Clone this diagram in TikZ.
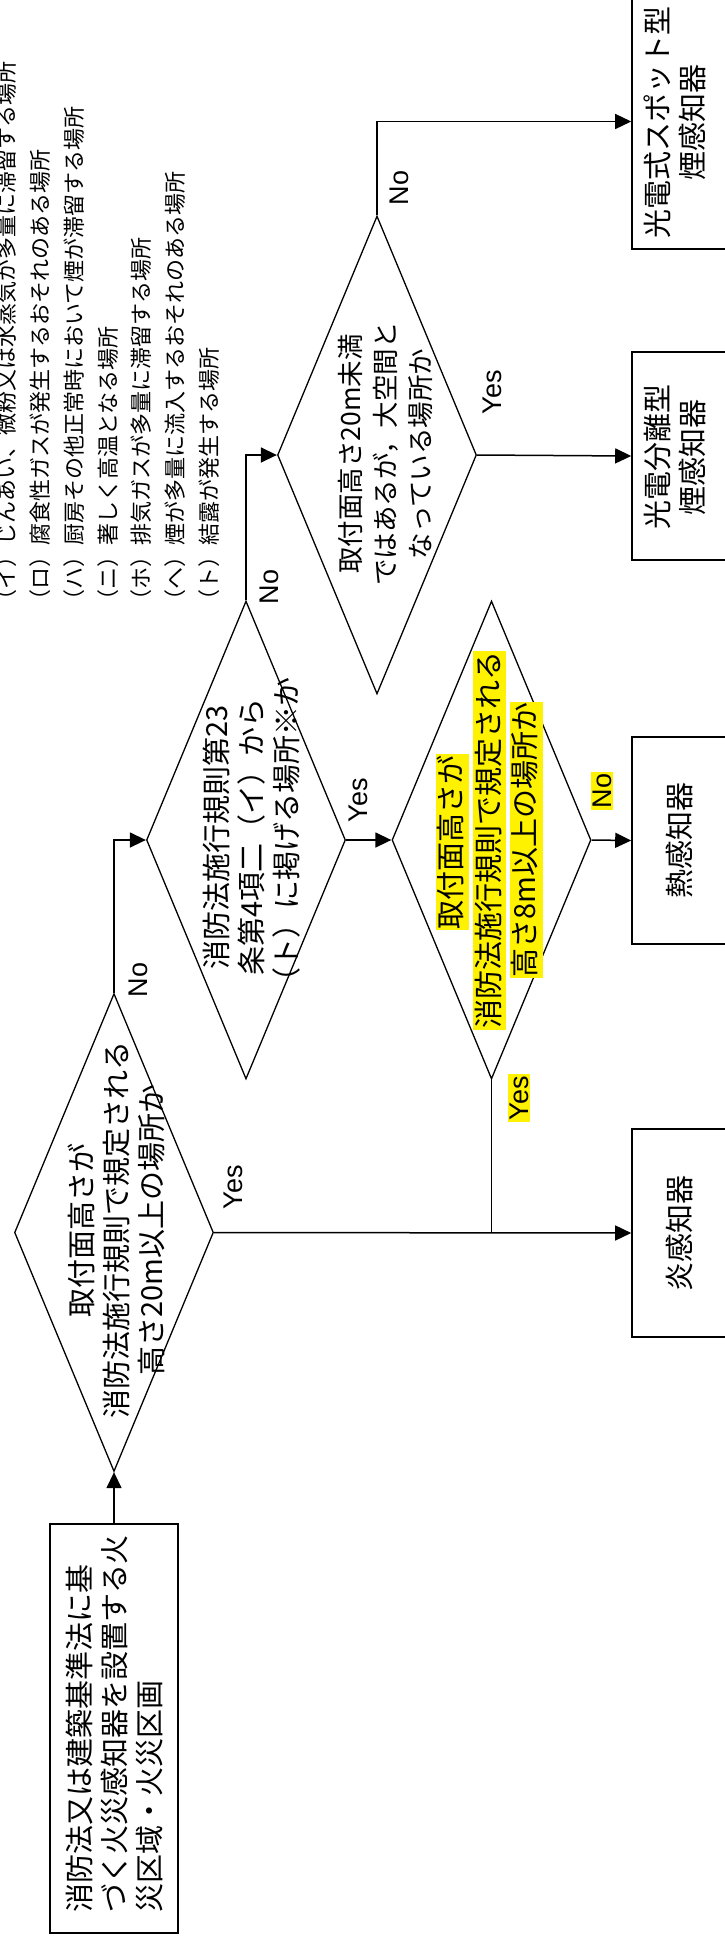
\documentclass[tikz,border=0pt]{standalone}
\usepackage{fontspec}
\setmainfont{Noto Sans CJK JP}
\newfontfamily\lat{Liberation Sans}
\usetikzlibrary{arrows.meta,shapes.geometric}
\tikzset{
  boxs/.style={draw, rectangle, line width=1.6pt, inner sep=0pt},
  dia/.style={draw, diamond, line width=1.3pt, inner sep=0pt, minimum width=199pt, minimum height=478pt},
  txt/.style={rotate=90, align=center, inner sep=0pt, font=\fontsize{29pt}{35pt}\selectfont},
  lbl/.style={rotate=90, inner sep=0pt, font=\lat\fontsize{27pt}{30pt}\selectfont},
  hl/.style={fill=yellow, inner xsep=1pt, inner ysep=2pt, text height=24pt, text depth=5pt},
  note/.style={rotate=90, anchor=west, inner sep=0pt, font=\fontsize{22pt}{26pt}\selectfont},
  conn/.style={line width=1.5pt},
  arr/.style={line width=1.5pt, -{Triangle[length=16pt,width=15pt]}},
}
\begin{document}
\begin{tikzpicture}[x=1pt,y=-1pt]
\useasboundingbox (0,0) rectangle (724,1943);

% notes
\node[note] (n1) at (6.5,612) {（イ）じんあい、微粉又は水蒸気が多量に滞留する場所};
\node[note] (n2) at (40.25,612) {（ロ）腐食性ガスが発生するおそれのある場所};
\node[note] (n3) at (74,612) {（ハ）厨房その他正常時において煙が滞留する場所};
\node[note] (n4) at (107.75,612) {（ニ）著しく高温となる場所};
\node[note] (n5) at (141.5,612) {（ホ）排気ガスが多量に滞留する場所};
\node[note] (n6) at (175.25,612) {（ヘ）煙が多量に流入するおそれのある場所};
\node[note] (n7) at (209,612) {（ト）結露が発生する場所};

% start box
\node[boxs, minimum width=128pt, minimum height=409pt] (start) at (114,1728.5) {};
\node[txt, align=left, anchor=west] (startt) at (114.5,1913)
  {消防法又は建築基準法に基\\づく火災感知器を設置する火\\災区域・火災区画};

% diamonds
\node[dia] (d1) at (114,1232.5) {};
\node[txt] (d1t) at (116,1230) {取付面高さが\\消防法施行規則で規定される\\高さ20m以上の場所か};

\node[dia] (d2) at (246,840) {};
\node[txt] (d2t) at (252,837) {消防法施行規則第23\\条第4項二（イ）から\\（ト）に掲げる場所※か};

\node[dia] (d4) at (491.5,840) {};
\node[txt, hl] (d4a) at (452,842) {取付面高さが};
\node[txt, hl] (d4b) at (489.5,840) {消防法施行規則で規定される};
\node[txt, hl] (d4c) at (526,840) {高さ8m以上の場所か};

\node[dia] (d3) at (377,455) {};
\node[txt, font=\fontsize{26.5pt}{35pt}\selectfont] (d3t) at (385,454) {取付面高さ20m未満\\ではあるが，大空間と\\なっている場所か};

% result boxes
\node[boxs, minimum width=148pt, minimum height=208pt] (flame) at (706,1233) {};
\node[txt] (flamet) at (679,1233) {炎感知器};
\node[boxs, minimum width=148pt, minimum height=207pt] (heat) at (706,840.5) {};
\node[txt] (heatt) at (679,840.5) {熱感知器};
\node[boxs, minimum width=148pt, minimum height=208pt] (sep) at (706,456) {};
\node[txt] (sept) at (675,457) {光電分離型\\煙感知器};
\node[boxs, minimum width=148pt, minimum height=255pt] (spot) at (706,121.5) {};
\node[txt] (spott) at (675,122) {光電式スポット型\\煙感知器};

% connectors
\draw[arr] (start.north) -- (d1.south);
\draw[arr] (d1.east) -- (flame.west);
\draw[arr] (d1.north) |- (d2.west);
\draw[arr] (d2.east) -- (d4.west);
\draw[conn] (d4.south) -- (d4.south |- d1.east);
\draw[arr] (d4.east) -- (heat.west);
\draw[arr] (d2.north) |- (d3.west);
\draw[arr] (d3.east) -- (sep.west);
\draw[arr] (d3.north) |- (spot.west);

% labels
\node[lbl] (y1) at (233,1187) {Yes};
\node[lbl] (no1) at (138,980) {No};
\node[lbl] (y2) at (358,800) {Yes};
\node[lbl] (no2) at (269,587) {No};
\node[lbl, fill=yellow, inner sep=2pt] (y4) at (519,1098) {Yes};
\node[lbl, fill=yellow, inner sep=2pt] (no4) at (602,791) {No};
\node[lbl] (y3) at (492,392) {Yes};
\node[lbl] (no3) at (399,188) {No};
\end{tikzpicture}
\end{document}
